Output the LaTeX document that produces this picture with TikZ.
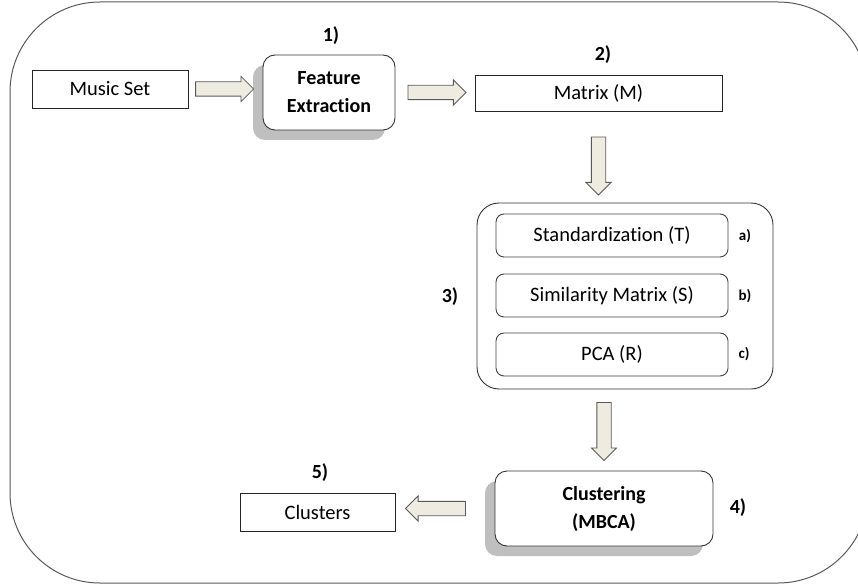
\documentclass[tikz,border=0pt]{standalone}
\usepackage{fontspec}
\setmainfont{Carlito}[Ligatures=NoCommon]
\usepackage{xcolor}
\usetikzlibrary{shapes.arrows,shadows}
\definecolor{arrowfill}{HTML}{EEECE1}

\begin{document}
\begin{tikzpicture}[
    x=1pt, y=-1pt,
    font=\fontsize{20.5}{28}\selectfont,
    box/.style={draw=black!85, line width=0.9pt, minimum width=156pt, minimum height=38pt, inner sep=0pt},
    roundbox/.style={draw=black!80, fill=white, line width=0.9pt, rounded corners=12pt, align=center, font=\fontsize{20}{28}\selectfont\bfseries, minimum width=132pt, minimum height=75pt, drop shadow={shadow xshift=-10pt, shadow yshift=-10pt, fill=black!25, opacity=1}},
    subbox/.style={draw=black!75, line width=0.9pt, rounded corners=8pt, minimum width=232pt, minimum height=43pt, inner sep=0pt},
    groupbox/.style={draw=black!80, line width=0.9pt, rounded corners=22pt, minimum width=296pt, minimum height=186pt},
    tag/.style={font=\fontsize{20}{24}\selectfont\bfseries},
    smalltag/.style={font=\fontsize{15}{18}\selectfont\bfseries},
    fatarrow/.style={single arrow, draw=black!65, fill=arrowfill, line width=0.8pt, inner xsep=0pt, inner ysep=6.75pt, single arrow head extend=5.5pt, minimum height=58pt, sloped, allow upside down},
    frame/.style={draw=black!65, line width=1pt, rounded corners=90pt}
]
\useasboundingbox (0,0) rectangle (858,585);

% outer frame
\draw[frame] (10,2) rectangle (868,583);

% main chain
\node[box] (music) at (110,89) {Music Set};
\node[roundbox] (feat) at (329,92.5) {Feature\\Extraction};
\node[box, minimum width=247pt, minimum height=36pt] (matrix) at (598.5,93) {Matrix (M)};

% preprocessing group
\node[groupbox] (prep) at (625,296) {};
\node[subbox] (std) at (612,235.5) {Standardization (T)};
\node[subbox] (sim) at (612,295.5) {Similarity Matrix (S)};
\node[subbox] (pca) at (612,354.5) {PCA (R)};

% clustering and output
\node[roundbox, minimum width=218pt] (clust) at (604,508.5) {Clustering\\(MBCA)};
\node[box, minimum width=155pt] (clusters) at (317.5,512) {Clusters};

% step numbers
\node[tag] (n1) at (331,36) {1)};
\node[tag] (n2) at (603,55) {2)};
\node[tag] (n3) at (450,297) {3)};
\node[tag] (n4) at (738,508) {4)};
\node[tag] (n5) at (320,473) {5)};
\node[smalltag] (na) at (745,236) {a)};
\node[smalltag] (nb) at (745,296) {b)};
\node[smalltag] (nc) at (744,354) {c)};

% block arrows
\path (music.east) -- node[fatarrow, pos=0.44] {} (music.east -| feat.west);
\path (feat.east) -- node[fatarrow, pos=0.48] {} (feat.east -| matrix.west);
\path (matrix.south) -- node[fatarrow, pos=0.56] {} (matrix.south |- prep.north);
\path (clust.north |- prep.south) -- node[fatarrow, pos=0.475] {} (clust.north);
\path (clust.west) -- node[fatarrow, pos=0.56, minimum height=60pt] {} (clust.west -| clusters.east);

\end{tikzpicture}
\end{document}
